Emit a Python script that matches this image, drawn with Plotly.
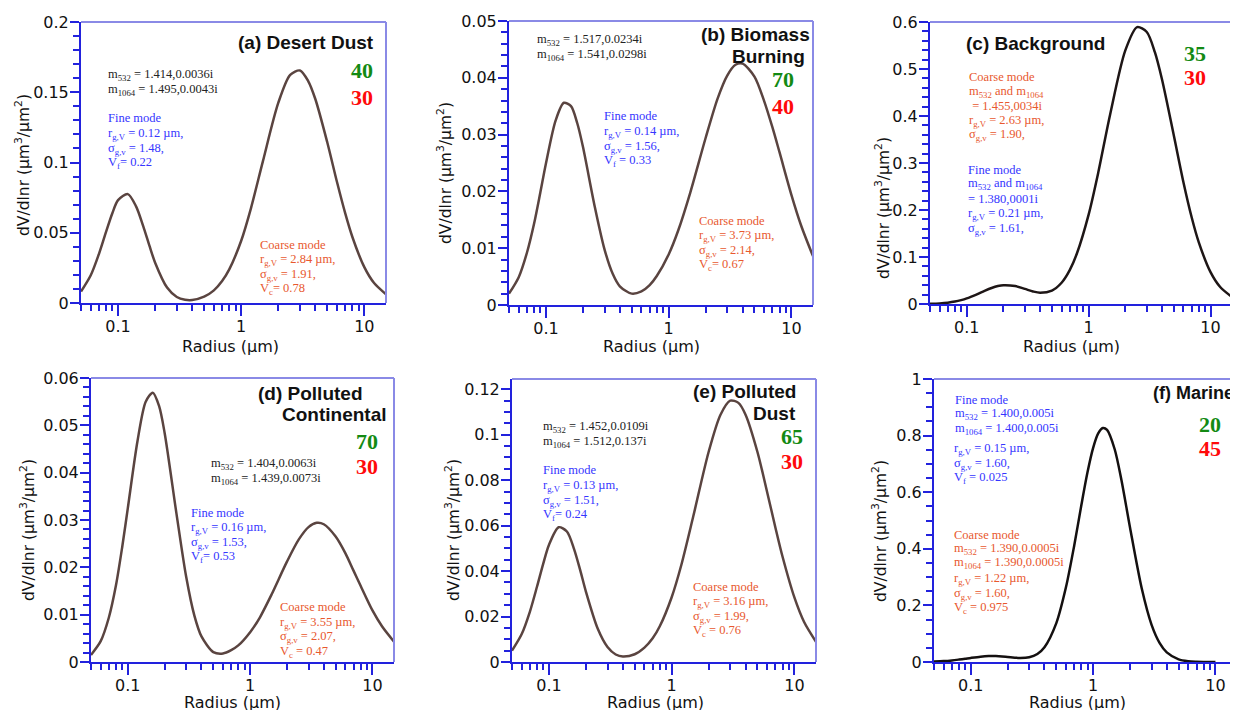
import math
import plotly.graph_objects as go

# ---------------- data ----------------
radius = [0.05, 0.06, 0.07, 0.08, 0.09, 0.1, 0.12, 0.14, 0.16, 0.18, 0.2, 0.25, 0.3, 0.35,
          0.4, 0.5, 0.6, 0.7, 0.8, 1, 1.2, 1.5, 2, 2.5, 3, 3.5, 4, 5, 6, 7, 8, 10, 12, 15]

desert_dust = [0.0081, 0.0197, 0.0350, 0.0508, 0.0641, 0.0732, 0.0775, 0.0688, 0.0547, 0.0406,
               0.0287, 0.0110, 0.0043, 0.0023, 0.0021, 0.0045, 0.0090, 0.0156, 0.0239, 0.0443,
               0.0674, 0.1008, 0.1424, 0.1624, 0.1655, 0.1580, 0.1452, 0.1144, 0.0861, 0.0638,
               0.0470, 0.0255, 0.0142, 0.0062]

biomass_burning = [0.0020, 0.0049, 0.0092, 0.0143, 0.0198, 0.0249, 0.0325, 0.0356, 0.0350, 0.0320,
                   0.0279, 0.0173, 0.0098, 0.0055, 0.0033, 0.0020, 0.0024, 0.0035, 0.0051, 0.0089,
                   0.0132, 0.0198, 0.0294, 0.0363, 0.0404, 0.0423, 0.0425, 0.0402, 0.0359, 0.0313,
                   0.0269, 0.0194, 0.0140, 0.0086]

background = [0.0004, 0.0013, 0.0028, 0.0051, 0.0082, 0.0119, 0.0201, 0.0279, 0.0340, 0.0381,
              0.0400, 0.0381, 0.0321, 0.0267, 0.0240, 0.0285, 0.0452, 0.0721, 0.1068, 0.1902,
              0.2798, 0.4028, 0.5396, 0.5891, 0.5787, 0.5352, 0.4776, 0.3585, 0.2587, 0.1847,
              0.1318, 0.0677, 0.0361, 0.0149]

polluted_continental = [0.0015, 0.0044, 0.0094, 0.0162, 0.0243, 0.0325, 0.0467, 0.0550, 0.0569, 0.0541,
                        0.0484, 0.0313, 0.0180, 0.0098, 0.0054, 0.0021, 0.0018, 0.0025, 0.0035, 0.0063,
                        0.0094, 0.0143, 0.0212, 0.0259, 0.0285, 0.0294, 0.0291, 0.0265, 0.0230, 0.0193,
                        0.0161, 0.0109, 0.0075, 0.0043]

polluted_dust = [0.0050, 0.0123, 0.0222, 0.0332, 0.0434, 0.0515, 0.0593, 0.0574, 0.0498, 0.0403,
                 0.0310, 0.0146, 0.0066, 0.0033, 0.0024, 0.0034, 0.0063, 0.0104, 0.0157, 0.0285,
                 0.0428, 0.0641, 0.0924, 0.1088, 0.1150, 0.1140, 0.1088, 0.0924, 0.0747, 0.0592,
                 0.0464, 0.0284, 0.0176, 0.0089]

radius_marine = [0.05, 0.06, 0.07, 0.08, 0.09, 0.1, 0.12, 0.14, 0.16, 0.18, 0.2, 0.25, 0.3, 0.35,
                 0.4, 0.5, 0.6, 0.7, 0.8, 0.9, 1, 1.1, 1.2, 1.3, 1.5, 1.7, 2, 2.5, 3, 3.5, 4, 5,
                 6, 7, 8, 10]
marine = [0.0014, 0.0031, 0.0056, 0.0086, 0.0116, 0.0145, 0.0188, 0.0208, 0.0208, 0.0196,
          0.0179, 0.0144, 0.0167, 0.0283, 0.0520, 0.1374, 0.2647, 0.4111, 0.5530, 0.6710,
          0.7566, 0.8076, 0.8269, 0.8200, 0.7518, 0.6450, 0.4763, 0.2585, 0.1323, 0.0669,
          0.0341, 0.0092, 0.0026, 0.0008, 0.0003, 0.0000]

x_tick_vals = [0.1, 1, 10]
x_tick_text = ["0.1", "1", "10"]
x_minor_vals = [0.05, 0.06, 0.07, 0.08, 0.09, 0.2, 0.3, 0.4, 0.5, 0.6, 0.7, 0.8, 0.9,
                2, 3, 4, 5, 6, 7, 8, 9]

# ---------------- layout helpers ----------------
W, H = 1238, 710
OFF = 8  # page body margin of the browser
BLUE = "#2222dd"
LIGHT_BLUE = "#8a8ae6"
FINE_C = "#3535ff"
COARSE_C = "#e8582e"
TEXT_C = "#222222"
GREEN = "#138a13"
RED = "#ff0a0a"
SANS = "DejaVu Sans"
SERIF = "Liberation Serif"
TICK_FS = 16


def px(x):
    return (x - OFF) / W


def py(y):
    return 1 - (y - OFF) / H


# panels: (x series, y series, domain px (x0,x1,y0,y1), ymax, dtick, minor dtick, line colour)
panels = [
    (radius, desert_dust, (81, 386, 22, 303), 0.2, 0.05, 0.01, "#5a4440"),
    (radius, biomass_burning, (509, 813, 21, 305), 0.05, 0.01, 0.002, "#5a4440"),
    (radius, background, (930, 1232, 22, 304), 0.6, 0.1, 0.02, "#1e1616"),
    (radius, polluted_continental, (91, 394, 378, 662), 0.06, 0.01, 0.002, "#5a4440"),
    (radius, polluted_dust, (512, 816, 379, 662), 0.1245, 0.02, 0.005, "#5a4440"),
    (radius_marine, marine, (934, 1237, 379, 662), 1.0, 0.2, 0.05, "#141010"),
]

fig = go.Figure()
shapes = []
annotations = []

for i, (xs, ys, dom, ymax, dt, mdt, lc) in enumerate(panels, start=1):
    sfx = "" if i == 1 else str(i)
    fig.add_trace(go.Scatter(x=xs, y=ys, mode="lines", xaxis="x" + sfx, yaxis="y" + sfx,
                             line=dict(color=lc, width=2.5, shape="spline", smoothing=0.8),
                             showlegend=False, hoverinfo="x+y"))
    x0, x1, y0, y1 = dom
    fig.layout["xaxis" + sfx] = dict(
        domain=[px(x0), px(x1)], anchor="y" + sfx, type="log",
        range=[math.log10(0.05), math.log10(15)],
        tickmode="array", tickvals=x_tick_vals, ticktext=x_tick_text,
        ticks="outside", ticklen=11, tickwidth=1.5, tickcolor=BLUE,
        showline=True, linecolor=BLUE, linewidth=2, mirror=False,
        showgrid=False, zeroline=False, automargin=False, ticklabelstandoff=-3,
        tickfont=dict(family=SANS, size=TICK_FS, color="#111111"),
        minor=dict(tickmode="array", tickvals=x_minor_vals, ticks="outside", ticklen=6,
                   tickwidth=1.5, tickcolor=BLUE, showgrid=False),
    )
    fig.layout["yaxis" + sfx] = dict(
        domain=[py(y1), py(y0)], anchor="x" + sfx, range=[0, ymax],
        tick0=0, dtick=dt, ticks="outside", ticklen=9, tickwidth=1.5, tickcolor=BLUE,
        showline=True, linecolor=BLUE, linewidth=2, mirror=False,
        showgrid=False, zeroline=False, automargin=False, ticklabelstandoff=-2,
        tickfont=dict(family=SANS, size=TICK_FS, color="#111111"),
        minor=dict(dtick=mdt, tick0=0, ticks="outside", ticklen=6, tickwidth=1.5,
                   tickcolor=BLUE, showgrid=False),
    )
    xr = ("x" + sfx) + " domain"
    yr = ("y" + sfx) + " domain"
    shapes.append(dict(type="line", xref=xr, yref=yr, x0=0, x1=1, y0=1, y1=1,
                       line=dict(color=LIGHT_BLUE, width=2)))
    shapes.append(dict(type="line", xref=xr, yref=yr, x0=1, x1=1, y0=0, y1=1,
                       line=dict(color=LIGHT_BLUE, width=2)))


def add_text(x, y, text, color, family, size, anchor="left", bold=False, angle=0):
    if bold:
        text = "<b>" + text + "</b>"
    annotations.append(dict(x=px(x), y=py(y), xref="paper", yref="paper", text=text,
                            showarrow=False, xanchor=anchor, yanchor="middle",
                            textangle=angle,
                            font=dict(family=family, size=size, color=color)))


def add_block(x, ys, lines, color):
    for yy, ln in zip(ys, lines):
        add_text(x, yy, ln, color, SERIF, 12.5)


# axis titles
ytitle = "dV/dlnr (µm<sup>3</sup>/µm<sup>2</sup>)"
for (xc, yc) in [(22, 165), (444, 173), (882, 208), (27, 530), (452, 530), (879, 531)]:
    add_text(xc, yc, ytitle, "#111111", SANS, 15.5, anchor="center", angle=-90)
for (xc, yc) in [(231, 346), (651, 346), (1071, 346), (232, 702), (655, 702), (1077, 702)]:
    add_text(xc, yc, "Radius (µm)", "#111111", SANS, 16, anchor="center")

# panel titles
TS = 19
TF = "Liberation Sans"
add_text(376, 42, "(a) Desert Dust", "#111111", TF, TS, anchor="right", bold=True)
add_text(812, 35, "(b) Biomass", "#111111", TF, TS, anchor="right", bold=True)
add_text(807, 56, "Burning", "#111111", TF, TS, anchor="right", bold=True)
add_text(964, 43, "(c) Background", "#111111", TF, TS, anchor="left", bold=True)
add_text(364, 393, "(d) Polluted", "#111111", TF, TS, anchor="right", bold=True)
add_text(389, 414, "Continental", "#111111", TF, TS, anchor="right", bold=True)
add_text(798, 392, "(e) Polluted", "#111111", TF, TS, anchor="right", bold=True)
add_text(798, 413, "Dust", "#111111", TF, TS, anchor="right", bold=True)
add_text(1236, 393, "(f) Marine", "#111111", TF, 18, anchor="right", bold=True)

# big numbers
NS = 22
for (xc, yg, yr_, g, r) in [(362, 71, 97, "40", "30"), (783, 80, 106, "70", "40"),
                            (1195, 53, 78, "35", "30"), (367, 441, 466, "70", "30"),
                            (792, 436, 461, "65", "30"), (1210, 424, 449, "20", "45")]:
    add_text(xc, yg, g, GREEN, SERIF, NS, anchor="center", bold=True)
    add_text(xc, yr_, r, RED, SERIF, NS, anchor="center", bold=True)

M532 = "m<sub>532</sub>"
M1064 = "m<sub>1064</sub>"
RG = "r<sub>g,V</sub>"
SG = "σ<sub>g,v</sub>"
VF = "V<sub>f</sub>"
VC = "V<sub>c</sub>"

# (a)
add_block(106, [75, 90], [M532 + " = 1.414,0.0036i", M1064 + " = 1.495,0.0043i"], TEXT_C)
add_block(106, [118, 134, 149, 163],
          ["Fine mode", RG + " = 0.12 µm,", SG + " = 1.48,", VF + "= 0.22"], FINE_C)
add_block(258, [245, 260, 275, 289],
          ["Coarse mode", RG + " = 2.84 µm,", SG + " = 1.91,", VC + "= 0.78"], COARSE_C)
# (b)
add_block(535, [40, 55], [M532 + " = 1.517,0.0234i", M1064 + " = 1.541,0.0298i"], TEXT_C)
add_block(602, [116, 132, 147, 161],
          ["Fine mode", RG + " = 0.14 µm,", SG + " = 1.56,", VF + " = 0.33"], FINE_C)
add_block(697, [221, 236, 251, 265],
          ["Coarse mode", RG + " = 3.73 µm,", SG + " = 2.14,", VC + "= 0.67"], COARSE_C)
# (c)
add_block(967, [77, 92, 106, 121, 135],
          ["Coarse mode", M532 + " and " + M1064, " = 1.455,0034i", RG + " = 2.63 µm,",
           SG + " = 1.90,"], COARSE_C)
add_block(966, [170, 184, 199, 214, 229],
          ["Fine mode", M532 + " and " + M1064, "= 1.380,0001i", RG + " = 0.21 µm,",
           SG + " = 1.61,"], FINE_C)
# (d)
add_block(209, [464, 479], [M532 + " = 1.404,0.0063i", M1064 + " = 1.439,0.0073i"], TEXT_C)
add_block(189, [513, 528, 543, 557],
          ["Fine mode", RG + " = 0.16 µm,", SG + " = 1.53,", VF + "= 0.53"], FINE_C)
add_block(278, [607, 623, 637, 652],
          ["Coarse mode", RG + " = 3.55 µm,", SG + " = 2.07,", VC + " = 0.47"], COARSE_C)
# (e)
add_block(541, [427, 442], [M532 + " = 1.452,0.0109i", M1064 + " = 1.512,0.137i"], TEXT_C)
add_block(541, [470, 486, 501, 515],
          ["Fine mode", RG + " = 0.13 µm,", SG + " = 1.51,", VF + "= 0.24"], FINE_C)
add_block(691, [587, 602, 617, 631],
          ["Coarse mode", RG + " = 3.16 µm,", SG + " = 1.99,", VC + " = 0.76"], COARSE_C)
# (f)
add_block(953, [400, 414, 429],
          ["Fine mode", M532 + " = 1.400,0.005i", M1064 + " = 1.400,0.005i"], FINE_C)
add_block(952, [449, 464, 478],
          [RG + " = 0.15 µm,", SG + " = 1.60,", VF + " = 0.025"], FINE_C)
add_block(952, [535, 549, 563, 579, 594, 608],
          ["Coarse mode", M532 + " = 1.390,0.0005i", M1064 + " = 1.390,0.0005i",
           RG + " = 1.22 µm,", SG + " = 1.60,", VC + " = 0.975"], COARSE_C)

fig.update_layout(
    width=W, height=H, margin=dict(l=0, r=0, t=0, b=0, pad=0, autoexpand=False),
    paper_bgcolor="white", plot_bgcolor="white",
    shapes=shapes, annotations=annotations, showlegend=False,
)

fig.write_html("out.html")
